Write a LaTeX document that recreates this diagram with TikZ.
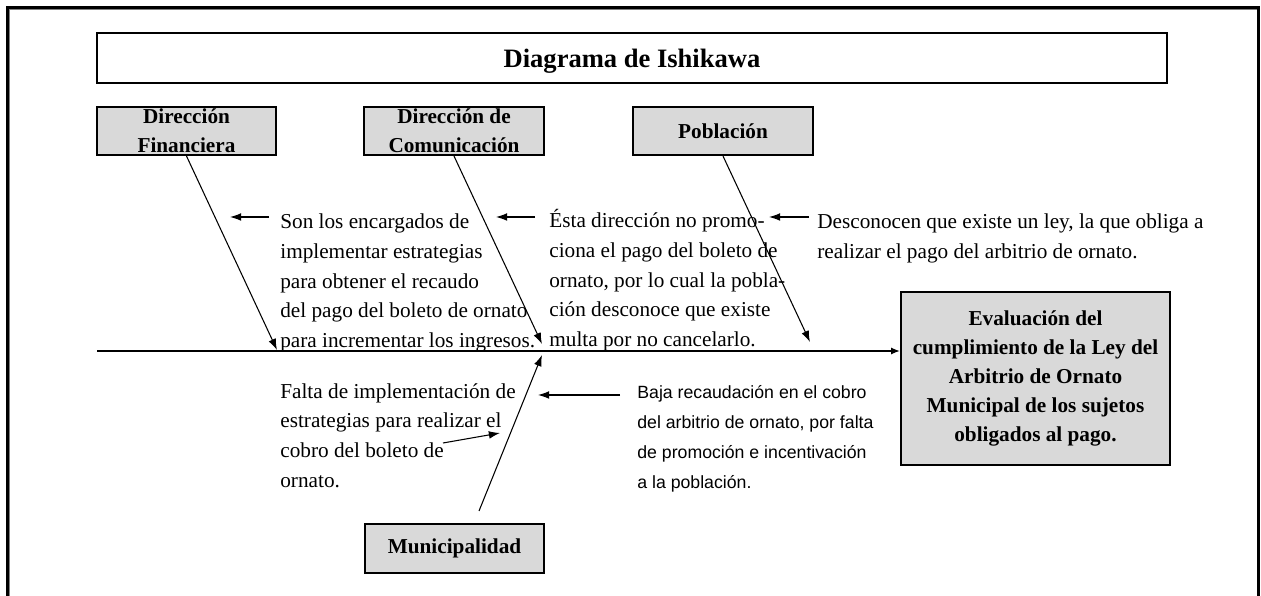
\documentclass[tikz,border=0pt]{standalone}
\usepackage{fontspec}
\setmainfont{Liberation Serif}
\setsansfont{Liberation Sans}
\usetikzlibrary{arrows.meta}
\definecolor{cajagris}{gray}{0.85}
\begin{document}
\begin{tikzpicture}[x=0.565pt,y=-0.565pt,
  caja/.style={draw,line width=1.2pt,fill=cajagris,inner sep=0pt,align=center,
    font=\bfseries\fontsize{12}{16.4}\selectfont,minimum width=101.3pt,minimum height=27.1pt},
  nota/.style={anchor=north west,inner sep=0pt,align=left,font=\fontsize{12}{16.8}\selectfont},
  notasf/.style={nota,font=\sffamily\fontsize{10}{16.9}\selectfont},
  flecha/.style={line width=0.6pt,-{Latex[length=6.3pt,width=4.4pt]}}]
\useasboundingbox (0,0) rectangle (1261,596);
\clip (0,0) rectangle (1261,596);
\draw[line width=1.5pt] (7.5,620) -- (7.5,7.5) -- (1258.5,7.5) -- (1258.5,620);
\draw[gray,line width=0.6pt] (9.8,620) -- (9.8,9.8) -- (1256.5,9.8);
\node[draw,line width=1.2pt,minimum width=604.6pt,minimum height=28.25pt,inner sep=0pt,text depth=0pt,
  font=\bfseries\fontsize{15}{18}\selectfont] (titulo) at (632,58) {Diagrama de Ishikawa};
\node[caja] (dirfin) at (186.5,131) {Dirección\\Financiera};
\node[caja] (dircom) at (454,131) {Dirección de\\Comunicación};
\node[caja] (pob) at (723,131) {Población};
\node[caja,minimum height=27.7pt] (muni) at (454.5,548.5) {Municipalidad};
\node[caja,minimum width=152pt,minimum height=97.7pt] (efecto) at (1035.5,378.5)
  {Evaluación del\\cumplimiento de la Ley del\\Arbitrio de Ornato\\Municipal de los sujetos\\obligados al pago.};
\node[nota] (txtfin) at (280,213.5) {Son los encargados de\\implementar estrategias\\para obtener el recaudo\\del pago del boleto de ornato\\para incrementar los ingresos.};
\node[nota] (txtcom) at (549,209) {Ésta dirección no promo-\\ciona el pago del boleto de\\ornato, por lo cual la pobla-\\ción desconoce que existe\\multa por no cancelarlo.};
\node[nota] (txtpob) at (817,213.5) {Desconocen que existe un ley, la que obliga a\\realizar el pago del arbitrio de ornato.};
\node[nota] (txtfalta) at (280,383) {Falta de implementación de\\estrategias para realizar el\\cobro del boleto de\\ornato.};
\node[notasf] (txtbaja) at (637,385) {Baja recaudación en el cobro\\del arbitrio de ornato, por falta\\de promoción e incentivación\\a la población.};
\coordinate (espina) at (97,351);
\draw[line width=0.8pt,-{Latex[length=5pt,width=4pt]}] (espina) -- (espina -| efecto.west);
\coordinate (pfin) at (277,350);
\coordinate (pcom) at (542,344);
\coordinate (ppob) at (810,342);
\coordinate (pmuni) at (542,355);
\coordinate (mbase) at (479,511);
\draw[flecha] (dirfin.south) -- (pfin);
\draw[flecha] (dircom.south) -- (pcom);
\draw[flecha] (pob.south) -- (ppob);
\draw[flecha] (mbase) -- (pmuni);
\coordinate (afin) at (230,217);
\coordinate (acom) at (496,217);
\coordinate (apob) at (769,217);
\coordinate (abaja) at (538,395);
\draw[flecha] ([shift={(-11,0)}]txtfin.north west |- afin) -- (afin);
\draw[flecha] ([shift={(-14,0)}]txtcom.north west |- acom) -- (acom);
\draw[flecha] ([shift={(-8,0)}]txtpob.north west |- apob) -- (apob);
\draw[flecha] ([shift={(-17,0)}]txtbaja.north west |- abaja) -- (abaja);
\coordinate (fbase) at (443,443);
\coordinate (afalta) at (500,433);
\draw[flecha] (fbase) -- (afalta);
\end{tikzpicture}
\end{document}
